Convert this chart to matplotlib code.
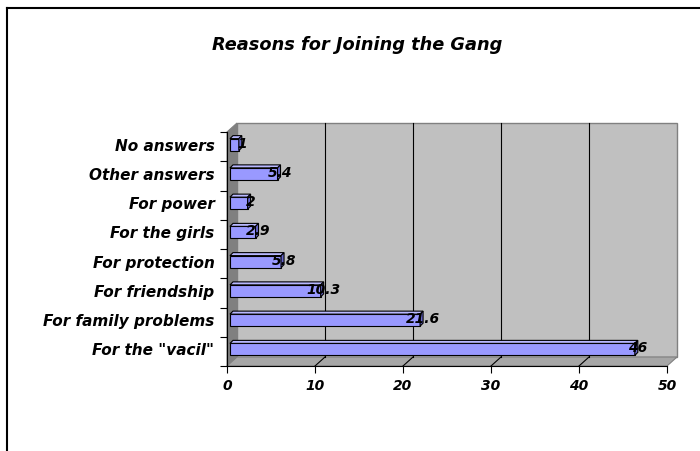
import matplotlib
matplotlib.use("Agg")
import matplotlib.pyplot as plt
from matplotlib.patches import Polygon
from matplotlib.lines import Line2D
import matplotlib.transforms as mtransforms

categories = ['For the "vacil"', 'For family problems', 'For friendship',
              'For protection', 'For the girls', 'For power',
              'Other answers', 'No answers']
values = [46, 21.6, 10.3, 5.8, 2.9, 2, 5.4, 1]
value_labels = ['46', '21.6', '10.3', '5.8', '2.9', '2', '5.4', '1']
xticks = [0, 10, 20, 30, 40, 50]
title = 'Reasons for Joining the Gang'

FONT = 'DejaVu Sans'
W, H = 700, 452
fig = plt.figure(figsize=(W / 100, H / 100), dpi=100)
fig.patch.set_facecolor('white')

# front plane in pixels
L, R, T, B = 227, 667, 133, 367
ax = fig.add_axes([L / W, 1 - B / H, (R - L) / W, (B - T) / H])
ax.set_xlim(0, 50)
ax.set_ylim(-0.5, 7.5)
ax.patch.set_visible(False)

pxx = (R - L) / 50.0        # px per x unit
pxy = (B - T) / 8.0         # px per y unit
def ux(px):
    return px / pxx
def uy(px):
    return px / pxy

# walls
dxw, dyw = ux(10), uy(9)
y0, y1 = -0.5, 7.5
back = Polygon([(dxw, y0 + dyw), (50 + dxw, y0 + dyw), (50 + dxw, y1 + dyw), (dxw, y1 + dyw)],
               closed=True, facecolor='#C0C0C0', edgecolor='#808080', lw=1.0, clip_on=False, zorder=1)
left = Polygon([(0, y0), (0, y1), (dxw, y1 + dyw), (dxw, y0 + dyw)],
               closed=True, facecolor='#808080', edgecolor='#808080', lw=0.8, clip_on=False, zorder=1)
floor = Polygon([(0, y0), (50, y0), (50 + dxw, y0 + dyw), (dxw, y0 + dyw)],
                closed=True, facecolor='#A6A6A6', edgecolor='#808080', lw=0.8, clip_on=False, zorder=1)
for p in (back, left, floor):
    ax.add_patch(p)

# gridlines on back wall and floor
for xv in xticks[1:-1]:
    ax.plot([xv + dxw, xv + dxw], [y0 + dyw, y1 + dyw], color='black', lw=0.8, zorder=2, clip_on=False)
    ax.plot([xv, xv + dxw], [y0, y0 + dyw], color='black', lw=0.8, zorder=2, clip_on=False)

# bars (front face via barh, top and side faces as polygons)
bh = uy(12)
bdx, bdy = ux(3), uy(3)
off = mtransforms.offset_copy(ax.transData, fig=fig, x=3, y=2, units='dots')
ypos = list(range(len(categories)))
bars = ax.barh(ypos, values, height=bh, left=0, color='#9999FF', edgecolor='black',
               lw=0.8, zorder=4)
for bar in bars:
    bar.set_transform(off)
for yi, v in zip(ypos, values):
    top = Polygon([(0, yi + bh / 2), (v, yi + bh / 2), (v + bdx, yi + bh / 2 + bdy), (bdx, yi + bh / 2 + bdy)],
                  closed=True, facecolor='#B8B8FF', edgecolor='black', lw=0.8, zorder=4, transform=off)
    side = Polygon([(v, yi - bh / 2), (v, yi + bh / 2), (v + bdx, yi + bh / 2 + bdy), (v + bdx, yi - bh / 2 + bdy)],
                   closed=True, facecolor='#6666CC', edgecolor='black', lw=0.8, zorder=4, transform=off)
    ax.add_patch(top)
    ax.add_patch(side)

# value labels
for yi, v, lab in zip(ypos, values, value_labels):
    ax.text(v + ux(6), yi + uy(4), lab, ha='center', va='center', fontsize=10,
            fontweight='bold', fontstyle='italic', family=FONT, zorder=6)

# axes spines and ticks
for s in ('top', 'right'):
    ax.spines[s].set_visible(False)
ax.spines['left'].set_color('black')
ax.spines['bottom'].set_color('black')
ax.spines['left'].set_zorder(3)
ax.spines['bottom'].set_zorder(3)
ax.set_xticks(xticks)
ax.set_xticklabels([str(x) for x in xticks], fontsize=10, fontweight='bold',
                   fontstyle='italic', family=FONT)
ax.tick_params(axis='x', length=5, width=0.8, pad=4)
ax.set_yticks([i - 0.5 for i in range(len(categories) + 1)])
ax.set_yticklabels([])
ax.tick_params(axis='y', length=5, width=0.8)
ax.set_yticks([yi + uy(3) for yi in ypos], minor=True)
ax.set_yticklabels(categories, minor=True, fontsize=11, fontweight='bold',
                   fontstyle='italic', family=FONT)
ax.tick_params(axis='y', which='minor', length=0, pad=9)

# title
fig.text(357 / W, 1 - 45 / H, title, ha='center', va='center', fontsize=12.8,
         fontweight='bold', fontstyle='italic', family=FONT)

# outer frame (left and top edges visible)
fig.add_artist(Line2D([7 / W, 7 / W], [0, 1 - 9 / H], color='black', lw=1.5, transform=fig.transFigure))
fig.add_artist(Line2D([7 / W, 1], [1 - 9 / H, 1 - 9 / H], color='black', lw=1.5, transform=fig.transFigure))

fig.savefig('out.png', dpi=100)
